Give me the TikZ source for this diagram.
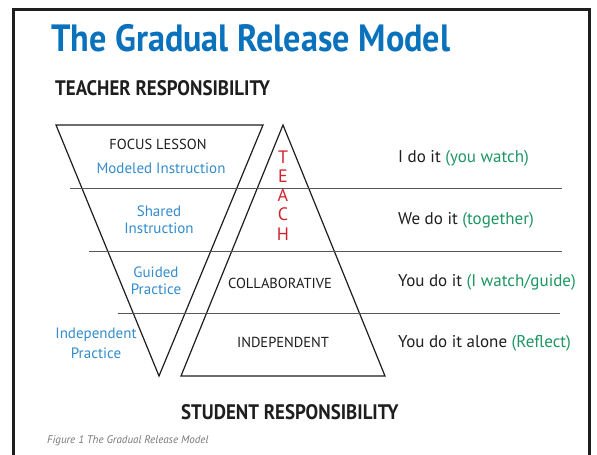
\documentclass[tikz,border=0pt]{standalone}
\usepackage{fontspec}
\setmainfont{PT Sans}
\newfontfamily\condf[FakeStretch=0.9]{PT Sans}
\newfontfamily\plainf{PT Sans}
\definecolor{titleblue}{RGB}{10,114,188}
\definecolor{lblue}{RGB}{52,140,205}
\definecolor{tgreen}{RGB}{30,150,100}
\definecolor{tred}{RGB}{210,35,45}
\definecolor{ink}{RGB}{30,30,30}
\definecolor{capgrey}{RGB}{120,120,120}
\begin{document}
\begin{tikzpicture}[x=1pt,y=1pt,
  tri/.style={draw=ink,line width=1.2pt,line join=miter},
  band/.style={draw=ink!75,line width=0.9pt},
  bluelbl/.style={inner sep=0pt,align=center,text=lblue,font=\plainf\fontsize{15}{17}\selectfont},
  caplbl/.style={inner sep=0pt,font=\plainf\fontsize{14.5}{16}\selectfont,text=ink},
  righttxt/.style={inner sep=0pt,anchor=west,font=\plainf\fontsize{17}{20}\selectfont,text=ink},
  letter/.style={inner sep=0pt,font=\plainf\fontsize{18}{20}\selectfont,text=tred},
  head/.style={inner sep=0pt,anchor=base west,font=\condf\bfseries\fontsize{21}{24}\selectfont,text=ink}]
\useasboundingbox (0,0) rectangle (597,455);
\fill[white] (0,0) rectangle (597,455);
% frame
\draw[line width=3pt,ink] (13,-5) -- (13,445) -- (589,445) -- (589,-5);
% title
\node[inner sep=0pt,anchor=base west,text=titleblue,font=\condf\bfseries\fontsize{38}{42}\selectfont] (title) at (51,403) {The Gradual Release Model};
\node[head] (teacher) at (55,359) {TEACHER RESPONSIBILITY};
% triangles
\coordinate (iL) at (56,330); \coordinate (iR) at (263,330); \coordinate (iB) at (159,79);
\coordinate (uA) at (283,330); \coordinate (uL) at (181,79); \coordinate (uR) at (385,79);
\draw[tri] (iL) -- (iR) -- (iB) -- cycle;
\draw[tri] (uA) -- (uR) -- (uL) -- cycle;
% bands
\coordinate (b1l) at (70,267); \coordinate (b1r) at (562,267);
\coordinate (b2l) at (89,204); \coordinate (b2r) at (562,204);
\coordinate (b3l) at (118,142); \coordinate (b3r) at (560,142);
\draw[band] (b1l) -- (b1r);
\draw[band] (b2l) -- (b2r);
\draw[band] (b3l) -- (b3r);
% left labels
\node[caplbl] (focus) at (158,311) {FOCUS LESSON};
\node[bluelbl] (modeled) at (161,287) {Modeled Instruction};
\node[bluelbl] (shared) at (159,235) {Shared\\Instruction};
\node[bluelbl] (guided) at (156,174) {Guided\\Practice};
\node[bluelbl,font=\plainf\fontsize{15}{20}\selectfont] (indep) at (96,112) {Independent\\Practice};
\node[caplbl] (collab) at (280,172) {COLLABORATIVE};
\node[caplbl] (indepS) at (283,113) {INDEPENDENT};
% TEACH
\node[letter] (t1) at (283,298) {T};
\node[letter] (t2) at (283,279) {E};
\node[letter] (t3) at (283,260) {A};
\node[letter] (t4) at (283,241) {C};
\node[letter] (t5) at (283,221) {H};
% right texts
\node[righttxt] (r1) at (398,297) {I do it \textcolor{tgreen}{(you watch)}};
\node[righttxt] (r2) at (398,235) {We do it \textcolor{tgreen}{(together)}};
\node[righttxt] (r3) at (398,173) {You do it \textcolor{tgreen}{(I watch/guide)}};
\node[righttxt] (r4) at (398,112) {You do it alone \textcolor{tgreen}{(Reflect)}};
% bottom
\node[head] (student) at (181,35) {STUDENT RESPONSIBILITY};
\node[inner sep=0pt,anchor=base west,text=capgrey,font=\plainf\itshape\fontsize{11}{12}\selectfont] (caption) at (47,11) {Figure 1 The Gradual Release Model};
\end{tikzpicture}
\end{document}
